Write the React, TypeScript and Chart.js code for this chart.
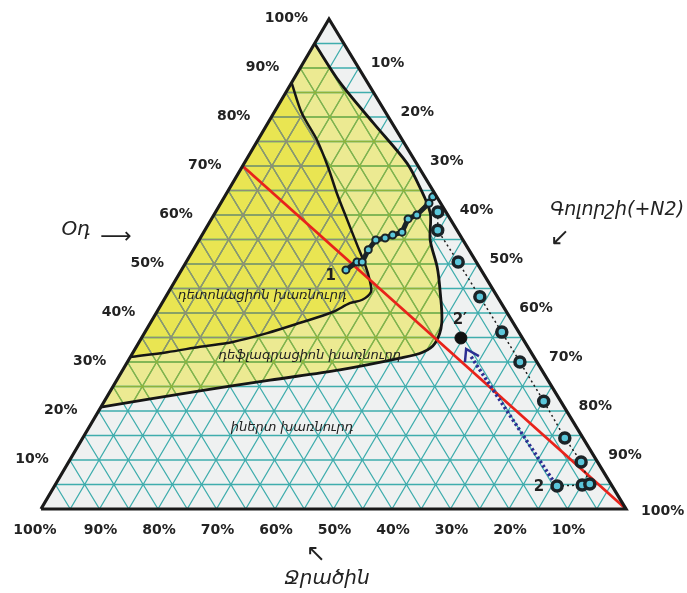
import { useEffect, useRef } from 'react';
import { Chart, registerables } from 'chart.js';

Chart.register(...registerables);

// ---------- data (ternary compositions, %) ----------
const GRID_STEPS = [5, 10, 15, 20, 25, 30, 35, 40, 45, 50, 55, 60, 65, 70, 75, 80, 85, 90, 95];
const AIR_TICKS = [10, 20, 30, 40, 50, 60, 70, 80, 90, 100];
const STEAM_TICKS = [10, 20, 30, 40, 50, 60, 70, 80, 90, 100];
const HYDROGEN_TICKS = [100, 90, 80, 70, 60, 50, 40, 30, 20, 10];

// flammability limit (outer boundary): air %, steam %
const flammableAir = [95, 87, 78.8, 70.6, 65.7, 60.4, 54.9, 49.4, 44.7, 38, 33.9, 32.0, 30.8, 28.4, 26.3, 24.1, 20.8];
const flammableSteam = [0, 8.3, 18.0, 27.8, 32.4, 36.8, 39.5, 43.4, 46.2, 49.8, 50.7, 49.5, 46.2, 37.1, 26.2, 15.3, 0];

// detonation limit (inner boundary)
const detonationAir = [87, 80.8, 75.3, 69.8, 64.5, 59.0, 53.9, 49.8, 46.7, 44.3, 42.7, 42.0, 40.2, 38.0, 35.9, 34.1, 33.1, 32.0, 31.0];
const detonationSteam = [0, 4.8, 10.1, 14.7, 18.8, 23.3, 27.5, 30.9, 33.2, 34.6, 33.9, 32.1, 30.1, 25.6, 21.0, 16.0, 10.9, 5.8, 0];

// stoichiometric line
const stoichAir = [70, 0];
const stoichSteam = [0, 100];

// path 1 (from point 1)
const path1Air = [48.8, 50.4, 50.4, 52.9, 54.9, 55.3, 55.9, 56.5, 59.2, 60.0, 62.4, 63.7];
const path1Steam = [28.1, 29.2, 30.1, 29.9, 30.2, 31.6, 32.6, 33.9, 33.6, 34.7, 35.6, 35.6];

// path 2 (from point 2)
const path2Air = [4.7, 4.9, 5.1, 9.6, 14.5, 22.0, 30.0, 36.1, 43.3, 50.4, 56.9, 60.6];
const path2Steam = [85.9, 90.1, 91.3, 87.6, 82.4, 75.1, 67.1, 61.0, 53.7, 46.5, 39.8, 38.0];

// point 2'
const point2pAir = [34.9];
const point2pSteam = [54.6];

// arrow 2 -> 2'
const arrowAir = [5.1, 31.2];
const arrowSteam = [85.4, 58.1];
const arrowHeadAir = [30.0, 32.65, 31.2];
const arrowHeadSteam = [57.7, 56.6, 59.5];

// labels
const regionLabels = ['դետոնացիոն խառնուրդ', 'դեֆլագրացիոն խառնուրդ', 'իներտ խառնուրդ'];
const regionLabelAir = [43.5, 31.4, 16.7];
const regionLabelSteam = [16.4, 30.5, 34.7];
const pointLabels = ['1', '2', '2′'];
const pointLabelAir = [47.6, 4.5, 38.6];
const pointLabelSteam = [26.1, 82.9, 52.6];

// ---------- geometry helpers ----------
const SKEW = 0.4923;
const toXY = (air: number, steam: number) => ({ x: steam + air * SKEW, y: air });
const zipPts = (air: number[], steam: number[]) => air.map((a, i) => toXY(a, steam[i]));

function gridPoints() {
  const pts: any[] = [];
  for (const s of GRID_STEPS) {
    pts.push(toXY(s, 0), toXY(s, 100 - s), { x: NaN, y: NaN });
    pts.push(toXY(0, s), toXY(100 - s, s), { x: NaN, y: NaN });
    pts.push(toXY(0, 100 - s), toXY(100 - s, 0), { x: NaN, y: NaN });
  }
  return pts;
}

const clipPlugin = {
  id: 'regionClip',
  beforeDatasetDraw(chart: any, args: any) {
    const ds = chart.data.datasets[args.index];
    if (!ds.clipTo) return;
    const { ctx, scales } = chart;
    ctx.save();
    ctx.beginPath();
    ds.clipTo.forEach((p: any, i: number) => {
      const px = scales.x.getPixelForValue(p.x);
      const py = scales.y.getPixelForValue(p.y);
      if (i) ctx.lineTo(px, py);
      else ctx.moveTo(px, py);
    });
    ctx.closePath();
    ctx.clip();
  },
  afterDatasetDraw(chart: any, args: any) {
    const ds = chart.data.datasets[args.index];
    if (ds.clipTo) chart.ctx.restore();
  },
};

const textPlugin = {
  id: 'ternaryText',
  afterDatasetsDraw(chart: any) {
    const { ctx, scales } = chart;
    const px = (a: number, s: number) => {
      const p = toXY(a, s);
      return [scales.x.getPixelForValue(p.x), scales.y.getPixelForValue(p.y)];
    };
    ctx.save();
    ctx.fillStyle = '#222';
    ctx.textBaseline = 'middle';
    ctx.font = 'bold 14px "DejaVu Sans"';
    ctx.textAlign = 'right';
    AIR_TICKS.forEach((t) => {
      const [X, Y] = px(t, 0);
      ctx.fillText(t + '%', X - 21, Y - 1);
    });
    ctx.textAlign = 'left';
    STEAM_TICKS.forEach((t) => {
      const [X, Y] = px(100 - t, t);
      if (t === 100) ctx.fillText(t + '%', X + 15, Y + 2);
      else ctx.fillText(t + '%', X + 12, Y - 5);
    });
    ctx.textAlign = 'center';
    HYDROGEN_TICKS.forEach((t) => {
      const [X, Y] = px(0, 100 - t);
      ctx.fillText(t + '%', t === 100 ? X - 6 : X + 1, Y + 21);
    });

    ctx.font = 'italic 13px "DejaVu Sans"';
    regionLabels.forEach((l, i) => {
      const [X, Y] = px(regionLabelAir[i], regionLabelSteam[i]);
      ctx.fillText(l, X, Y);
    });
    ctx.font = 'bold 15px "DejaVu Sans"';
    pointLabels.forEach((l, i) => {
      const [X, Y] = px(pointLabelAir[i], pointLabelSteam[i]);
      ctx.fillText(l, X, Y);
    });

    // axis titles
    ctx.font = 'italic 20px "DejaVu Sans"';
    ctx.fillText('Օդ', 76, 230);
    ctx.font = 'italic 19px "DejaVu Sans"';
    ctx.fillText('Գոլորշի(+N2)', 617, 210);
    ctx.font = 'italic 20px "DejaVu Sans"';
    ctx.fillText('Ջրածին', 327, 579);
    ctx.font = '22px "DejaVu Sans"';
    ctx.fillText('⟶', 116, 237);
    ctx.font = '24px "DejaVu Sans"';
    ctx.fillText('↙', 560, 239);
    ctx.fillText('↖', 316, 555);
    ctx.restore();
  },
};

const line = (data: any[], extra: any) => ({
  type: 'scatter',
  data,
  showLine: true,
  pointRadius: 0,
  pointHoverRadius: 0,
  borderWidth: 1,
  fill: false,
  ...extra,
});

export default function App() {
  const ref = useRef<HTMLCanvasElement>(null);
  useEffect(() => {
    document.body.style.margin = '0';
    const tri = zipPts([0, 100, 0, 0], [0, 0, 100, 0]);
    const flam = zipPts(flammableAir, flammableSteam);
    const det = zipPts(detonationAir, detonationSteam);
    const grid = gridPoints();
    const chart = new Chart(ref.current as HTMLCanvasElement, {
      type: 'scatter',
      data: {
        datasets: [
          line(tri, { order: 20, fill: 'shape', backgroundColor: '#eff1f1', borderWidth: 0 }),
          line(flam, { order: 19, fill: 'shape', backgroundColor: '#ecea92', borderWidth: 0 }),
          line(det, { order: 18, fill: 'shape', backgroundColor: '#e9e552', borderWidth: 0 }),
          line(grid, { order: 17, borderColor: '#3fadad', borderWidth: 1.3 }),
          line(grid, { order: 16, borderColor: '#8cb43c', borderWidth: 1.3, clipTo: flam }),
          line(grid, { order: 15, borderColor: '#8e8e7a', borderWidth: 1.2, clipTo: det }),
          line(flam, { order: 14, borderColor: '#151515', borderWidth: 2.8, tension: 0.3 }),
          line(det, { order: 13, borderColor: '#151515', borderWidth: 2.5, tension: 0.3 }),
          line(zipPts(stoichAir, stoichSteam), { order: 12, borderColor: '#e8231b', borderWidth: 2.8 }),
          line(zipPts(arrowAir, arrowSteam), { order: 11, borderColor: '#2d2f92', borderWidth: 3.5, borderDash: [2.5, 2.5] }),
          line(zipPts(arrowHeadAir, arrowHeadSteam), { order: 10, borderColor: '#2d2f92', borderWidth: 2.5 }),
          line(zipPts(path2Air, path2Steam), {
            order: 9, borderColor: '#1d1d1d', borderWidth: 1.5, borderDash: [2, 3],
            pointRadius: 5, pointBorderWidth: 3.5, pointBackgroundColor: '#5bc6da', pointBorderColor: '#1b2327',
          }),
          line(zipPts(path1Air, path1Steam), {
            order: 8, borderColor: '#1b2327', borderWidth: 5,
            pointRadius: 3.5, pointBorderWidth: 2, pointBackgroundColor: '#5bc6da', pointBorderColor: '#1b2327',
          }),
          {
            type: 'scatter', order: 7, data: zipPts(point2pAir, point2pSteam),
            pointRadius: 6, pointBackgroundColor: '#111', pointBorderColor: '#111', pointBorderWidth: 1,
          },
          line(tri, { order: 6, borderColor: '#1a1a1a', borderWidth: 3.2, borderJoinStyle: 'miter' }),
        ] as any,
      },
      options: {
        responsive: false,
        animation: false,
        layout: { padding: 0, autoPadding: false },
        plugins: { legend: { display: false }, tooltip: { enabled: false } },
        events: [],
        scales: {
          x: { type: 'linear', display: false, min: -41 / 5.85, max: (687 - 41) / 5.85 },
          y: { type: 'linear', display: false, min: -84 / 4.9, max: 509 / 4.9 },
        },
      } as any,
      plugins: [clipPlugin, textPlugin] as any,
    });
    return () => chart.destroy();
  }, []);
  return (
    <div style={{ width: 687, height: 593, background: '#fff' }}>
      <canvas ref={ref} width={687} height={593} style={{ display: 'block' }} />
    </div>
  );
}
